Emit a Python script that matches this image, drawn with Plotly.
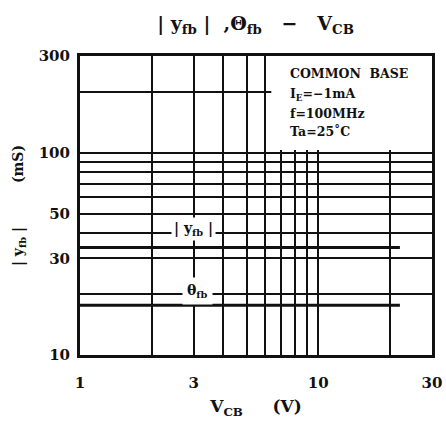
import math
import plotly.graph_objects as go

# data
vcb_yfb = [1, 22]
yfb = [34, 34]
vcb_theta = [1, 22]
theta = [17.6, 17.6]

x_tickvals = [1, 2, 3, 4, 5, 6, 7, 8, 9, 10, 20, 30]
x_ticktext = ["1", "", "3", "", "", "", "", "", "", "10", "", "30"]
y_tickvals = [10, 20, 30, 40, 50, 60, 70, 80, 90, 100, 200, 300]
y_ticktext = ["10", "", "30", "", "50", "", "", "", "", "100", "", "300"]
cond_lines = ["COMMON&nbsp;&nbsp;BASE", "I<sub>E</sub>=−1mA", "f=100MHz", "Ta=25˚C"]

FONT = "DejaVu Serif"
BLK = "#111"
L = math.log10

fig = go.Figure()
fig.add_trace(go.Scatter(x=vcb_yfb, y=yfb, mode="lines",
                         line=dict(color=BLK, width=3), showlegend=False))
fig.add_trace(go.Scatter(x=vcb_theta, y=theta, mode="lines",
                         line=dict(color=BLK, width=3), showlegend=False))

# white box behind condition text (above grid, below data)
fig.add_shape(type="rect", xref="x", yref="y", x0=6.35, x1=30, y0=103, y1=300,
              fillcolor="white", line=dict(width=0), layer="between")

# curve labels (annotation positions on log axes are given in log10 units)
fig.add_annotation(x=L(3), y=L(42), xref="x", yref="y", text="| y<sub>fb</sub> |",
                   showarrow=False, bgcolor="white", borderpad=2,
                   font=dict(family=FONT, size=14, color=BLK, weight="bold"))
fig.add_annotation(x=L(3.1), y=L(20.8), xref="x", yref="y", text="θ<sub>fb</sub>",
                   showarrow=False, bgcolor="white", borderpad=4,
                   font=dict(family=FONT, size=14, color=BLK, weight="bold"))
for txt, yp in zip(cond_lines, [0.943, 0.872, 0.809, 0.746]):
    fig.add_annotation(x=0.591, y=yp, xref="paper", yref="paper", xanchor="left",
                       yanchor="middle", align="left", text=txt, showarrow=False,
                       font=dict(family=FONT, size=12.5, color=BLK, weight="bold"))

fig.update_layout(
    width=446, height=425,
    margin=dict(l=80, r=14, t=56, b=70),
    paper_bgcolor="white", plot_bgcolor="white",
    title=dict(text="| y<sub>fb</sub> |&nbsp;&nbsp;,Θ<sub>fb</sub>&nbsp;&nbsp;&nbsp;−&nbsp;&nbsp;&nbsp;V<sub>CB</sub>",
               x=0.573, xanchor="center", y=0.945, yanchor="middle",
               font=dict(family=FONT, size=19, color=BLK, weight="bold")),
    font=dict(family=FONT, color=BLK),
)
fig.update_xaxes(type="log", range=[0, 1.47712], tickvals=x_tickvals, ticktext=x_ticktext,
                 automargin=False,
                 showgrid=True, gridcolor=BLK, gridwidth=1.5,
                 showline=True, linecolor=BLK, linewidth=3, mirror=True,
                 ticks="", ticklabelstandoff=12,
                 tickfont=dict(family=FONT, size=15, color=BLK, weight="bold"),
                 title=dict(text="V<sub>CB</sub>&nbsp;&nbsp;&nbsp;&nbsp;&nbsp;(V)", standoff=10,
                            font=dict(family=FONT, size=17, color=BLK, weight="bold")))
fig.update_yaxes(type="log", range=[1, 2.47712], tickvals=y_tickvals, ticktext=y_ticktext,
                 automargin=False,
                 showgrid=True, gridcolor=BLK, gridwidth=1.5,
                 showline=True, linecolor=BLK, linewidth=3, mirror=True,
                 ticks="", ticklabelstandoff=4,
                 tickfont=dict(family=FONT, size=15, color=BLK, weight="bold"),
                 title=dict(text="| y<sub>fb</sub> |&nbsp;&nbsp;&nbsp;&nbsp;&nbsp;&nbsp;&nbsp;&nbsp;&nbsp;(mS)", standoff=12,
                            font=dict(family=FONT, size=14, color=BLK, weight="bold")))

fig.write_html("out.html", config={"displayModeBar": False},
               post_script="document.body.style.margin='0px';")
